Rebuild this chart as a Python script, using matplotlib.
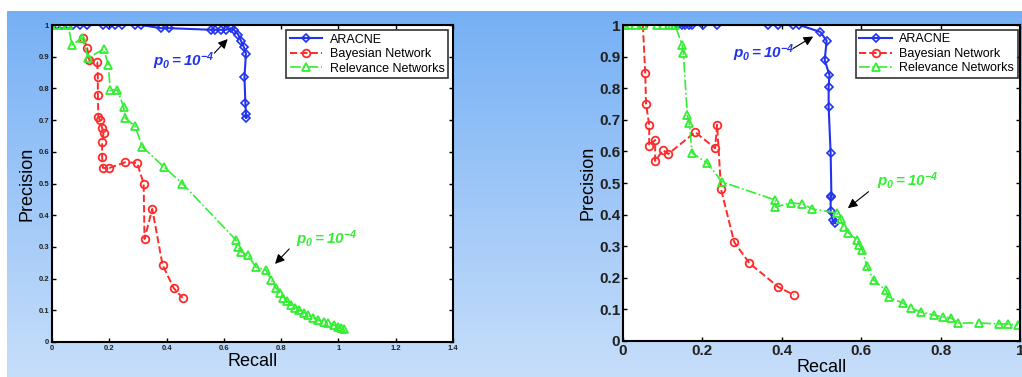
import numpy as np
import matplotlib
matplotlib.use('Agg')
import matplotlib.pyplot as plt

plt.rcParams['font.family'] = ['Liberation Sans', 'DejaVu Sans']
plt.rcParams['mathtext.fontset'] = 'custom'
plt.rcParams['mathtext.it'] = 'Liberation Sans:italic:bold'
plt.rcParams['mathtext.rm'] = 'Liberation Sans:italic:bold'

# ---- left panel data (recall, precision) ----
ar1_x = [0.018, 0.035, 0.056, 0.074, 0.098, 0.123, 0.179, 0.20, 0.22, 0.245, 0.29, 0.31,
         0.38, 0.41, 0.554, 0.57, 0.59, 0.607, 0.625, 0.635, 0.65, 0.66, 0.67, 0.677,
         0.672, 0.675, 0.677, 0.678]
ar1_y = [1.0, 1.0, 1.0, 1.0, 1.0, 1.0, 1.0, 1.0, 1.0, 1.0, 1.0, 1.0,
         0.99, 0.99, 0.985, 0.985, 0.985, 0.985, 0.99, 0.985, 0.97, 0.95, 0.93, 0.91,
         0.836, 0.754, 0.72, 0.707]
bn1_x = [0.109, 0.123, 0.13, 0.158, 0.16, 0.16, 0.162, 0.168, 0.175, 0.18, 0.175, 0.175,
         0.178, 0.20, 0.256, 0.297, 0.32, 0.323, 0.35, 0.386, 0.425, 0.456]
bn1_y = [0.959, 0.927, 0.89, 0.883, 0.837, 0.78, 0.71, 0.70, 0.675, 0.66, 0.63, 0.585,
         0.549, 0.549, 0.567, 0.565, 0.50, 0.325, 0.42, 0.243, 0.17, 0.139]
rn1_x = [0.018, 0.053, 0.056, 0.07, 0.105, 0.127, 0.18, 0.197, 0.203, 0.228, 0.25, 0.256,
         0.29, 0.315, 0.39, 0.455, 0.642, 0.649, 0.66, 0.684, 0.712, 0.747, 0.765, 0.782,
         0.795, 0.807, 0.82, 0.835, 0.85, 0.863, 0.88, 0.894, 0.91, 0.93, 0.95, 0.965,
         0.985, 1.0, 1.01, 1.02]
rn1_y = [1.0, 1.0, 1.0, 0.937, 0.959, 0.896, 0.924, 0.874, 0.795, 0.795, 0.742, 0.706,
         0.681, 0.616, 0.553, 0.50, 0.322, 0.30, 0.284, 0.274, 0.236, 0.227, 0.196, 0.17,
         0.155, 0.139, 0.128, 0.117, 0.108, 0.101, 0.093, 0.085, 0.077, 0.069, 0.064, 0.06,
         0.053, 0.047, 0.044, 0.041]

# ---- right panel data ----
ar2_x = [0.139, 0.148, 0.157, 0.165, 0.174, 0.202, 0.237, 0.366, 0.391, 0.427, 0.444,
         0.497, 0.513, 0.508, 0.52, 0.518, 0.518, 0.523, 0.525, 0.523, 0.523, 0.528, 0.535]
ar2_y = [1.0, 1.0, 1.0, 1.0, 1.0, 1.0, 1.0, 1.0, 1.0, 1.0, 1.0,
         0.978, 0.95, 0.889, 0.842, 0.804, 0.74, 0.595, 0.456, 0.459, 0.411, 0.383, 0.373]
bn2_x = [0.05, 0.056, 0.058, 0.066, 0.066, 0.081, 0.081, 0.101, 0.114, 0.182, 0.232, 0.237,
         0.247, 0.28, 0.318, 0.391, 0.43]
bn2_y = [1.0, 0.848, 0.75, 0.684, 0.617, 0.636, 0.57, 0.604, 0.592, 0.661, 0.61, 0.684,
         0.48, 0.313, 0.247, 0.171, 0.146]
rn2_x = [0.005, 0.015, 0.03, 0.05, 0.086, 0.101, 0.116, 0.124, 0.131, 0.149, 0.152, 0.162,
         0.167, 0.174, 0.212, 0.25, 0.384, 0.384, 0.422, 0.452, 0.477, 0.538, 0.548, 0.556,
         0.568, 0.59, 0.594, 0.603, 0.614, 0.631, 0.662, 0.669, 0.705, 0.725, 0.75, 0.783,
         0.806, 0.826, 0.843, 0.896, 0.947, 0.97, 0.995]
rn2_y = [1.0, 1.0, 1.0, 1.0, 1.0, 1.0, 1.0, 1.0, 1.0, 0.937, 0.911, 0.715,
         0.69, 0.595, 0.563, 0.503, 0.446, 0.424, 0.437, 0.434, 0.418, 0.405, 0.386, 0.361,
         0.342, 0.32, 0.304, 0.288, 0.237, 0.193, 0.161, 0.139, 0.12, 0.104, 0.092, 0.082,
         0.076, 0.073, 0.057, 0.057, 0.054, 0.054, 0.05]

labels = ['ARACNE', 'Bayesian Network', 'Relevance Networks']
blue, red, green = '#2233ee', '#ff2a2a', '#33ee33'
note = r'$p_0\mathrm{=10}^{-4}$'
arrow = dict(arrowstyle='-|>', color='black', lw=0.8, mutation_scale=14)

fig = plt.figure(figsize=(10.22, 3.77), dpi=100)

# blue gradient backdrop
bg = fig.add_axes([7 / 1022, 0, 1 - 7 / 1022, (377 - 11) / 377])
grad = np.linspace(0, 1, 256).reshape(-1, 1)
top = np.array([0.46, 0.69, 0.96])
bot = np.array([0.78, 0.87, 0.98])
img = top + (bot - top) * grad[:, :, None]
bg.imshow(img, aspect='auto', extent=[0, 1, 0, 1])
bg.axis('off')


def panel(rect, xlim, xticks, xticklabels, tick_fs, data, leg_anchor):
    ax = fig.add_axes(rect)
    (ax_x, ax_y), (bx, by), (rx, ry) = data
    ax.plot(ax_x, ax_y, '-', color=blue, lw=1.5, marker='D', ms=4.5, mfc='none',
            mec=blue, mew=1.2, label=labels[0])
    ax.plot(bx, by, '--', color=red, lw=1.4, marker='o', ms=5.5, mfc='none',
            mec=red, mew=1.3, label=labels[1])
    ax.plot(rx, ry, '-.', color=green, lw=1.2, marker='^', ms=6, mfc='none',
            mec=green, mew=1.3, label=labels[2])
    ax.set_xlim(*xlim)
    ax.set_ylim(0, 1)
    ax.set_xticks(xticks)
    ax.set_xticklabels(xticklabels)
    ax.set_yticks(np.arange(0, 1.01, 0.1))
    ax.set_yticklabels(['0'] + ['%.1f' % v for v in np.arange(0.1, 0.95, 0.1)] + ['1'])
    ax.tick_params(direction='in', top=True, right=True, length=3, width=1,
                   labelsize=tick_fs, pad=2)
    for t in ax.get_xticklabels() + ax.get_yticklabels():
        t.set_fontweight('bold')
        t.set_color('#222222')
    for s in ax.spines.values():
        s.set_linewidth(1.5)
    ax.set_xlabel('Recall', fontsize=13, labelpad=1)
    ax.set_ylabel('Precision', fontsize=13, labelpad=2)
    leg = ax.legend(loc='upper right', bbox_to_anchor=leg_anchor, fontsize=9,
                    frameon=True, fancybox=False, edgecolor='black', handlelength=2.6,
                    borderpad=0.3, labelspacing=0.2, handletextpad=0.6, borderaxespad=0)
    leg.get_frame().set_linewidth(1.2)
    return ax


left = panel([52 / 1022, 35 / 377, 401 / 1022, 317 / 377], (0, 1.4),
             np.arange(0, 1.41, 0.2), ['0', '0.2', '0.4', '0.6', '0.8', '1', '1.2', '1.4'],
             5.5, [(ar1_x, ar1_y), (bn1_x, bn1_y), (rn1_x, rn1_y)], (0.988, 0.985))
right = panel([623 / 1022, 36 / 377, 397 / 1022, 316 / 377], (0, 1),
              np.arange(0, 1.01, 0.2), ['0', '0.2', '0.4', '0.6', '0.8', '1'],
              11, [(ar2_x, ar2_y), (bn2_x, bn2_y), (rn2_x, rn2_y)], (0.995, 0.985))

# p0 annotations
left.text(0.354, 0.87, note, color=blue, fontsize=11)
left.annotate('', xy=(0.62, 0.962), xytext=(0.56, 0.905), arrowprops=arrow)
left.text(0.853, 0.31, note, color=green, fontsize=11)
left.annotate('', xy=(0.772, 0.24), xytext=(0.835, 0.30), arrowprops=arrow)
right.text(0.278, 0.895, note, color=blue, fontsize=11)
right.annotate('', xy=(0.485, 0.968), xytext=(0.422, 0.921), arrowprops=arrow)
right.text(0.641, 0.49, note, color=green, fontsize=11)
right.annotate('', xy=(0.561, 0.415), xytext=(0.624, 0.478), arrowprops=arrow)

fig.savefig('out.png', dpi=100)
